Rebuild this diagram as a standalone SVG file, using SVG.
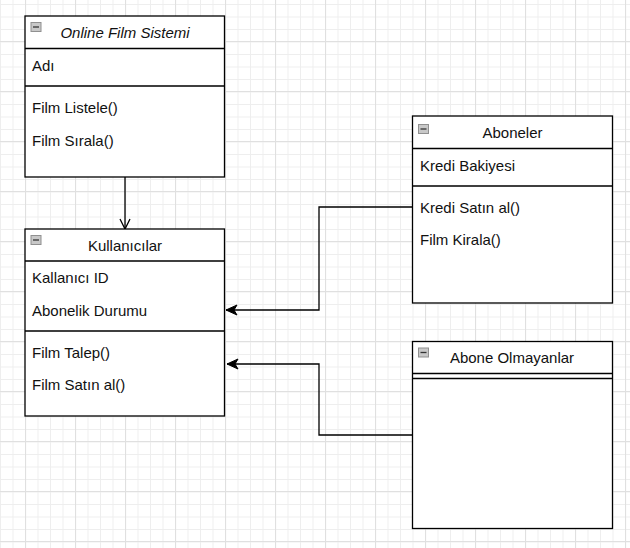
<svg xmlns="http://www.w3.org/2000/svg" width="630" height="548" viewBox="0 0 630 548">
  <defs>
    <pattern id="minor" patternUnits="userSpaceOnUse" x="0" y="4" width="12.5" height="12.5">
      <path d="M0 0.5H12.5M0.5 0V12.5" fill="none" stroke="#eeeeee" stroke-width="1"/>
    </pattern>
    <pattern id="major" patternUnits="userSpaceOnUse" x="25" y="41" width="50" height="50">
      <path d="M0 0.5H50M0.5 0V50" fill="none" stroke="#e0e0e0" stroke-width="1.2"/>
    </pattern>
    <marker id="block" markerUnits="userSpaceOnUse" markerWidth="14" markerHeight="12" refX="12" refY="6" orient="auto">
      <path d="M1 1 L12 6 L1 11 L4 6 Z" fill="#000" stroke="#000" stroke-width="1"/>
    </marker>
    <marker id="open" markerUnits="userSpaceOnUse" markerWidth="14" markerHeight="14" refX="12" refY="7" orient="auto">
      <path d="M2 2 L12 7 L2 12" fill="none" stroke="#000" stroke-width="1.3"/>
    </marker>
    <g id="icon">
      <rect x="0.5" y="0.5" width="10" height="9" fill="#c8c8c8" stroke="#909090" stroke-width="1"/>
      <path d="M2.5 5H8.5" stroke="#333" stroke-width="1.3"/>
    </g>
  </defs>
  <style>
    .box { fill: #fff; stroke: #000; stroke-width: 1.3; }
    .sep { stroke: #000; stroke-width: 1.3; fill: none; }
    .t { font-family: "Liberation Sans", Arial, sans-serif; font-size: 15px; fill: #111; }
    .h { text-anchor: middle; }
    .conn { fill: none; stroke: #000; stroke-width: 1.3; }
  </style>
  <rect width="630" height="548" fill="#fff"/>
  <rect width="630" height="548" fill="url(#minor)"/>
  <rect width="630" height="548" fill="url(#major)"/>

  <g id="connectors">
    <path class="conn" d="M125 177 V229" marker-end="url(#open)"/>
    <path class="conn" d="M412 207 H319 V310 H226" marker-end="url(#block)"/>
    <path class="conn" d="M412 435 H319 V364 H227" marker-end="url(#block)"/>
  </g>

  <g id="online-film-sistemi">
    <rect class="box" x="25" y="16" width="199.5" height="161"/>
    <path class="sep" d="M25 48.5H224.5M25 86H224.5"/>
    <use href="#icon" x="30.5" y="22"/>
    <text class="t h" x="125" y="38" font-style="italic">Online Film Sistemi</text>
    <text class="t" x="32" y="70.5">Adı</text>
    <text class="t" x="32" y="113">Film Listele()</text>
    <text class="t" x="32" y="145.5">Film Sırala()</text>
  </g>

  <g id="kullanicilar">
    <rect class="box" x="25" y="229" width="199.5" height="187"/>
    <path class="sep" d="M25 261H224.5M25 331H224.5"/>
    <use href="#icon" x="30.5" y="235"/>
    <text class="t h" x="125" y="251">Kullanıcılar</text>
    <text class="t" x="32" y="283">Kallanıcı ID</text>
    <text class="t" x="32" y="315.5">Abonelik Durumu</text>
    <text class="t" x="32" y="357.5">Film Talep()</text>
    <text class="t" x="32" y="390">Film Satın al()</text>
  </g>

  <g id="aboneler">
    <rect class="box" x="412.5" y="116" width="200" height="187"/>
    <path class="sep" d="M412.5 148.5H612.5M412.5 186H612.5"/>
    <use href="#icon" x="418" y="124"/>
    <text class="t h" x="512.5" y="138">Aboneler</text>
    <text class="t" x="420" y="170.5">Kredi Bakiyesi</text>
    <text class="t" x="420" y="212.5">Kredi Satın al()</text>
    <text class="t" x="420" y="245">Film Kirala()</text>
  </g>

  <g id="abone-olmayanlar">
    <rect class="box" x="412.5" y="341.5" width="200" height="187"/>
    <path class="sep" d="M412.5 373.5H612.5M412.5 378.5H612.5"/>
    <use href="#icon" x="418" y="347.5"/>
    <text class="t h" x="512" y="363">Abone Olmayanlar</text>
  </g>
</svg>
